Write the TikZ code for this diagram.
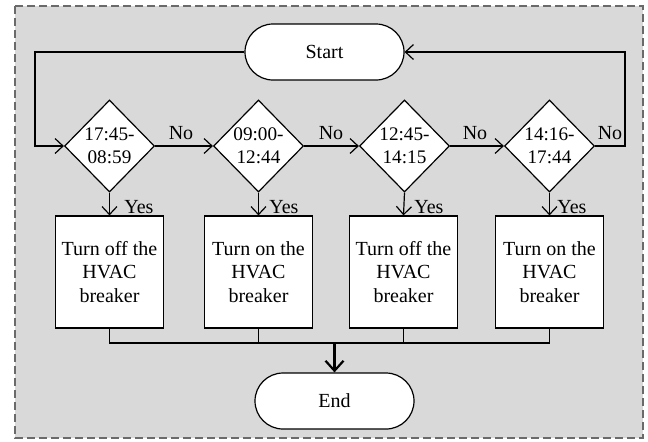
\documentclass[tikz,border=0pt]{standalone}
\usepackage{fontspec}
\setmainfont{Liberation Serif}
\usetikzlibrary{shapes.geometric,shapes.misc,arrows.meta}
\definecolor{panel}{HTML}{D9D9D9}
\definecolor{frameline}{HTML}{6A6A6A}
\tikzset{
  base/.style={draw=black, fill=white, line width=0.6pt, font=\fontsize{10}{11.7}\selectfont, align=center, inner sep=0pt},
  terminal/.style={base, rounded rectangle, minimum width=79.5pt, minimum height=28pt},
  decision/.style={base, diamond, aspect=1, minimum width=45pt, minimum height=46pt, font=\fontsize{9.6}{11.5}\selectfont},
  action/.style={base, rectangle, minimum width=54pt, minimum height=56pt},
  flow/.style={line width=0.6pt, -{Straight Barb[length=4pt,width=7.5pt,line width=0.6pt]}},
  wire/.style={line width=0.6pt},
  lbl/.style={font=\fontsize{10}{11.7}\selectfont, inner sep=0pt}
}
\begin{document}
\begin{tikzpicture}[x=0.5pt,y=-0.5pt]
\useasboundingbox (0,0) rectangle (648,441);
% panel with dashed frame
\fill[white] (0,0) rectangle (648,441);
\draw[frameline, fill=panel, line width=0.6pt, dash pattern=on 4pt off 2pt] (15,6) rectangle (643,438);

% terminals
\node[terminal] (start) at (324.5,52) {Start};
\node[terminal] (end) at (334.5,401) {End};

% decisions
\node[decision] (d1) at (109.5,146) {17:45-\\08:59};
\node[decision] (d2) at (258.5,146) {09:00-\\12:44};
\node[decision] (d3) at (404.5,146) {12:45-\\14:15};
\node[decision] (d4) at (549.5,146) {14:16-\\17:44};

% actions
\node[action] (b1) at (109.5,272) {Turn off the\\HVAC\\breaker};
\node[action] (b2) at (258.5,272) {Turn on the\\HVAC\\breaker};
\node[action] (b3) at (403.5,272) {Turn off the\\HVAC\\breaker};
\node[action] (b4) at (549.5,272) {Turn on the\\HVAC\\breaker};

% routing helpers
\coordinate (lx) at (35,0);
\coordinate (rx) at (625,0);
\coordinate (bus) at (334.5,343);

% loops back and forth to Start
\draw[flow] (start.west) -- (start.west -| lx) |- (d1.west);
\draw[flow] (d4.east) -- (d4.east -| rx) |- (start.east);

% "No" chain
\draw[flow] (d1.east) -- (d2.west);
\draw[flow] (d2.east) -- (d3.west);
\draw[flow] (d3.east) -- (d4.west);

% "Yes" branches
\draw[flow] (d1.south) -- (b1.north);
\draw[flow] (d2.south) -- (b2.north);
\draw[flow] (d3.south) -- (b3.north);
\draw[flow] (d4.south) -- (b4.north);

% merge to End
\draw[wire] (b1.south) |- (b4.south |- bus) -- (b4.south);
\draw[wire] (b2.south) -- (b2.south |- bus);
\draw[wire] (b3.south) -- (b3.south |- bus);
\draw[line width=1.1pt, -{Straight Barb[length=5pt,width=9pt,line width=1.1pt]}] (end.north |- bus) -- (end.north);

% labels
\node[lbl] (no1) at (181,133) {No};
\node[lbl] (no2) at (331,133) {No};
\node[lbl] (no3) at (475,133) {No};
\node[lbl] (no4) at (610,133) {No};
\node[lbl, anchor=west] (y1) at (124,207) {Yes};
\node[lbl, anchor=west] (y2) at (269,207) {Yes};
\node[lbl, anchor=west] (y3) at (414,207) {Yes};
\node[lbl, anchor=west] (y4) at (557,207) {Yes};
\end{tikzpicture}
\end{document}
